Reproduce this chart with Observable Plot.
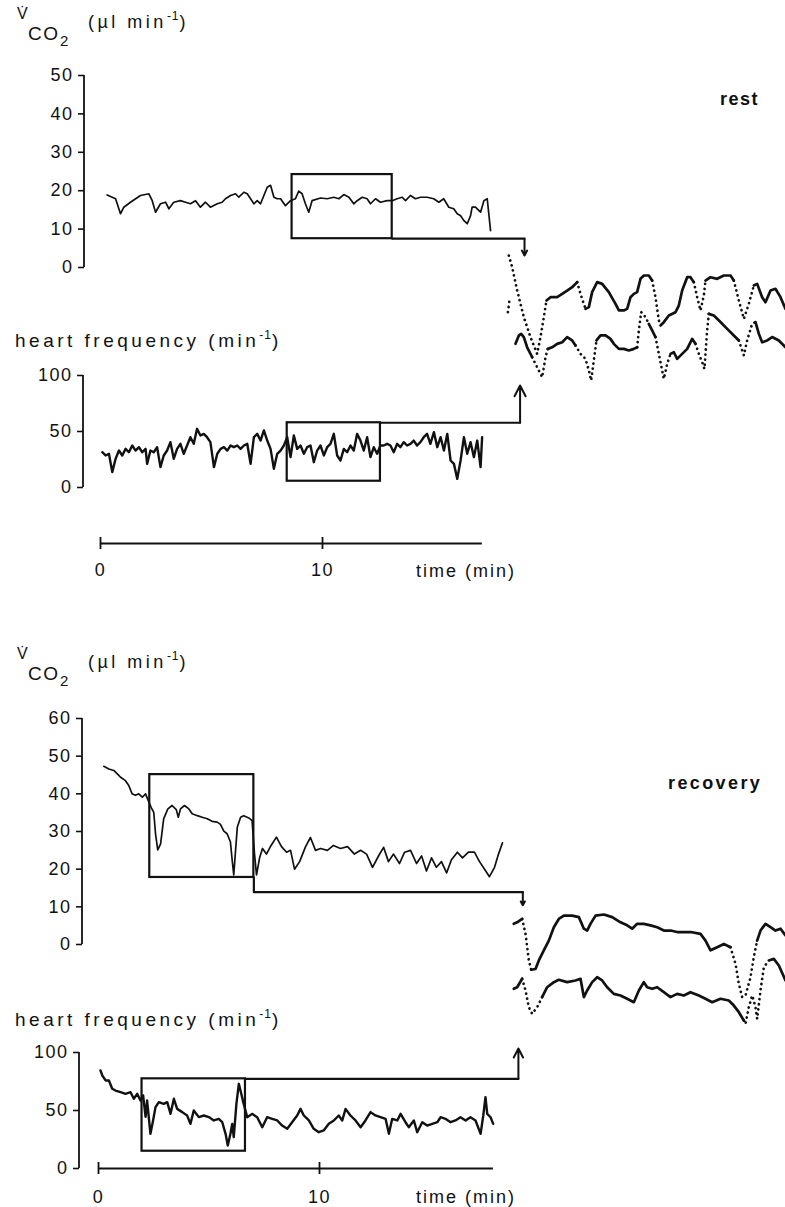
<!DOCTYPE html>
<html><head><meta charset="utf-8">
<script src="https://cdn.jsdelivr.net/npm/d3@7"></script>
<script src="https://cdn.jsdelivr.net/npm/@observablehq/plot@0.6"></script>
<style>
html,body{margin:0;padding:0;background:#fff;}
#fig{position:relative;width:785px;height:1207px;overflow:hidden;background:#fff;font-family:"Liberation Sans",Arial,Helvetica,sans-serif;color:#111;}
#fig svg{position:absolute;left:0;top:0;}
.lbl{position:absolute;white-space:nowrap;font-size:19px;letter-spacing:3.5px;line-height:1;color:#111;}
.sup{font-size:12px;position:relative;top:-8px;letter-spacing:1px;}
</style></head><body><div id="fig"></div>
<script>
// ---------------- data (time in min, values in axis units) ----------------
const timeTicks = [0, 10];
const vco2RestTicks = [0, 10, 20, 30, 40, 50];
const vco2RecTicks = [0, 10, 20, 30, 40, 50, 60];
const hrTicks = [0, 50, 100];

// REST: V'CO2 (µl/min)
const restVco2 = [[0.30,18.9],[0.68,17.9],[0.90,14.0],[1.05,15.7],[1.35,17.0],[1.80,18.75],[2.18,19.2],[2.33,17.4],[2.48,14.4],[2.70,16.6],[2.93,17.0],[3.08,15.3],[3.30,17.0],[3.60,17.4],[3.83,17.0],[4.05,16.6],[4.28,17.4],[4.50,15.7],[4.73,17.0],[4.95,15.7],[5.26,16.6],[5.48,17.0],[5.63,17.9],[5.86,18.75],[6.08,19.2],[6.23,18.3],[6.46,19.6],[6.61,19.2],[6.76,17.9],[6.91,16.6],[7.06,17.4],[7.21,16.6],[7.36,18.75],[7.51,20.9],[7.66,21.4],[7.81,18.3],[7.96,17.9],[8.11,17.9],[8.33,16.1],[8.56,17.4],[8.78,17.9],[8.93,19.9],[9.08,19.2],[9.23,16.6],[9.38,14.4],[9.53,17.4],[9.91,18.1],[10.21,17.9],[10.51,18.3],[10.74,17.9],[10.96,19.0],[11.19,18.3],[11.41,16.6],[11.56,17.4],[11.79,18.3],[12.01,17.9],[12.16,16.6],[12.39,17.9],[12.61,17.0],[12.91,17.4],[13.14,17.4],[13.36,17.9],[13.59,18.3],[13.74,17.4],[13.96,18.75],[14.19,17.9],[14.41,18.3],[14.71,18.3],[15.01,17.9],[15.24,17.0],[15.46,17.9],[15.69,15.7],[15.91,15.3],[16.07,14.0],[16.22,13.5],[16.37,12.2],[16.52,11.4],[16.67,13.5],[16.74,15.7],[16.89,15.7],[17.12,14.4],[17.27,17.4],[17.42,17.9],[17.57,9.6]];
// REST: heart frequency (1/min)
const restHr = [[0.08,31.5],[0.23,28.6],[0.38,30.1],[0.53,13.7],[0.68,25.6],[0.83,33.0],[0.98,28.6],[1.13,34.5],[1.28,31.5],[1.43,37.5],[1.58,33.0],[1.73,36.0],[1.88,31.5],[2.03,34.5],[2.10,21.1],[2.25,33.0],[2.40,31.5],[2.55,36.0],[2.70,18.2],[2.85,28.6],[3.00,33.0],[3.15,40.5],[3.30,25.6],[3.45,34.5],[3.60,39.0],[3.75,30.1],[3.90,37.5],[4.05,44.9],[4.20,39.0],[4.35,52.4],[4.50,46.4],[4.65,47.9],[4.80,44.9],[4.95,40.5],[5.11,18.2],[5.26,30.1],[5.41,34.5],[5.56,36.0],[5.71,33.0],[5.86,37.5],[6.01,36.0],[6.16,37.5],[6.31,34.5],[6.46,37.5],[6.61,39.0],[6.76,21.1],[6.91,44.9],[7.06,47.9],[7.21,41.9],[7.36,50.9],[7.51,41.9],[7.66,34.5],[7.81,16.7],[7.96,30.1],[8.11,33.0],[8.26,37.5],[8.41,44.9],[8.56,27.1],[8.71,46.4],[8.86,34.5],[9.01,37.5],[9.16,30.1],[9.31,36.0],[9.46,37.5],[9.61,22.6],[9.76,33.0],[9.91,37.5],[10.06,28.6],[10.21,36.0],[10.36,39.0],[10.51,47.9],[10.66,28.6],[10.81,24.1],[10.96,34.5],[11.11,31.5],[11.26,37.5],[11.41,33.0],[11.56,47.9],[11.71,41.9],[11.86,33.0],[12.01,44.9],[12.16,27.1],[12.31,36.0],[12.46,30.1],[12.61,37.5],[12.76,37.5],[12.91,39.0],[13.06,37.5],[13.21,31.5],[13.36,39.0],[13.51,36.0],[13.66,40.5],[13.81,37.5],[13.96,39.0],[14.11,41.9],[14.26,37.5],[14.41,40.5],[14.56,44.9],[14.71,47.9],[14.86,39.0],[15.02,49.4],[15.17,36.0],[15.32,44.9],[15.47,33.0],[15.62,47.9],[15.77,24.1],[15.92,21.1],[16.07,7.7],[16.22,24.1],[16.37,44.9],[16.52,30.1],[16.67,40.5],[16.82,27.1],[16.97,41.9],[17.12,18.2],[17.19,44.9]];
const restVco2Box = {t1: 8.63, t2: 13.14, v1: 7.5, v2: 24.2};
const restHrBox = {t1: 8.41, t2: 12.61, v1: 5.6, v2: 57.8};
const restVco2Link = {t: 19.1, level: 7.5, tip: 3.1};
const restHrLink = {t: 18.9, level: 57.8, tip: 91};
const restTimeEnd = 17.2;

// REST magnified insets: [min from window start, value, segment style: 0 solid, 1 dotted, 2 gap]
const restVco2Inset = [[0.005,21.35,1],[0.059,20.48,1],[0.14,18.72,1],[0.247,16.72,1],[0.355,15.21,1],[0.462,13.96,1],[0.516,15.21,1],[0.57,16.72,1],[0.613,17.97,0],[0.677,18.22,0],[0.785,18.22,0],[0.866,18.47,0],[0.946,18.72,0],[1.027,18.97,0],[1.108,19.35,1],[1.161,18.47,1],[1.242,17.34,0],[1.296,17.47,0],[1.349,18.60,0],[1.43,19.35,0],[1.511,19.22,0],[1.618,18.60,0],[1.726,17.72,0],[1.78,17.22,0],[1.86,17.22,0],[1.914,17.34,0],[1.968,18.22,0],[2.022,18.47,0],[2.075,18.60,0],[2.129,19.60,0],[2.183,19.85,0],[2.263,19.85,0],[2.317,19.47,1],[2.371,18.22,1],[2.425,16.47,1],[2.452,16.09,0],[2.505,16.34,0],[2.586,16.84,0],[2.694,17.09,0],[2.747,17.59,0],[2.801,18.72,0],[2.882,19.72,0],[2.935,19.72,0],[2.989,19.35,1],[3.043,18.22,1],[3.097,17.22,1],[3.151,18.35,1],[3.177,19.47,0],[3.258,19.72,0],[3.366,19.60,0],[3.473,19.85,0],[3.581,19.85,0],[3.634,19.47,1],[3.715,17.97,1],[3.796,16.59,1],[3.876,17.72,1],[3.957,19.10,0],[4.011,19.22,0],[4.091,18.22,0],[4.145,17.84,0],[4.226,18.72,0],[4.306,18.85,0],[4.387,18.22,0],[4.468,17.34,0]];
const restHrInset = [[-0.01,49.3,1],[0.005,52.2,1],[0.02,55.9,2],[0.113,35.3,0],[0.167,39.0,0],[0.204,39.7,0],[0.247,38.3,0],[0.301,33.8,0],[0.382,29.4,1],[0.462,25.0,1],[0.543,20.6,1],[0.597,29.4,1],[0.634,33.1,0],[0.704,33.8,0],[0.785,35.3,0],[0.866,36.0,0],[0.946,38.3,0],[1.027,36.8,0],[1.081,34.6,1],[1.161,30.9,1],[1.242,28.7,1],[1.296,23.6,1],[1.333,19.2,1],[1.376,28.0,1],[1.419,36.8,0],[1.484,39.0,0],[1.565,39.0,0],[1.645,37.5,0],[1.699,35.3,0],[1.78,33.1,0],[1.86,33.1,0],[1.941,32.4,0],[2.022,33.1,0],[2.075,33.8,1],[2.102,41.2,1],[2.14,49.3,1],[2.21,47.1,1],[2.263,44.1,0],[2.317,41.2,0],[2.371,38.3,1],[2.425,30.9,1],[2.478,23.6,1],[2.505,19.9,1],[2.559,26.5,1],[2.613,30.9,0],[2.667,31.6,0],[2.72,28.7,0],[2.801,30.9,0],[2.882,33.1,0],[2.962,37.5,0],[3.016,35.3,1],[3.07,30.9,1],[3.124,27.2,1],[3.161,24.3,1],[3.177,30.9,1],[3.204,41.2,1],[3.231,48.5,0],[3.312,47.8,0],[3.419,44.9,0],[3.527,41.9,0],[3.634,39.0,0],[3.715,36.8,1],[3.769,32.4,1],[3.796,30.2,1],[3.849,36.8,1],[3.93,44.1,1],[3.984,44.9,0],[4.038,39.7,0],[4.091,36.0,0],[4.172,36.8,0],[4.253,38.3,0],[4.36,36.8,0],[4.468,33.8,0]];

// RECOVERY: V'CO2
const recVco2 = [[0.24,47.3],[0.47,46.6],[0.69,46.2],[0.85,45.3],[1.00,44.4],[1.22,43.5],[1.37,42.2],[1.52,40.0],[1.67,39.6],[1.82,40.0],[1.98,39.1],[2.13,40.0],[2.28,37.8],[2.38,36.4],[2.50,35.1],[2.58,29.4],[2.68,25.1],[2.81,26.7],[2.95,33.4],[3.14,36.0],[3.33,36.9],[3.52,35.8],[3.61,33.8],[3.71,36.0],[3.89,36.9],[4.09,36.0],[4.24,34.7],[4.47,34.2],[4.69,33.8],[4.92,33.4],[5.14,32.7],[5.37,32.5],[5.52,31.9],[5.67,30.1],[5.82,29.4],[5.97,27.2],[6.05,22.3],[6.12,18.5],[6.28,31.1],[6.43,33.8],[6.57,34.2],[6.80,33.6],[6.95,32.9],[7.06,24],[7.15,18.5],[7.29,23],[7.42,25.5],[7.60,24],[7.78,26],[8.05,28.5],[8.28,26],[8.51,24.5],[8.69,25],[8.87,20],[9.10,22],[9.37,26],[9.59,28.4],[9.82,25],[10.05,25.5],[10.36,25],[10.63,26.3],[10.95,25.5],[11.27,26],[11.58,24],[11.86,25],[12.13,24],[12.40,20.5],[12.67,23.5],[12.90,25.8],[13.12,22],[13.35,24],[13.62,21.5],[13.85,24.5],[14.12,25],[14.39,21.5],[14.62,23.5],[14.84,19.5],[15.07,23],[15.29,20.5],[15.52,22],[15.75,19],[15.97,22.5],[16.24,24.5],[16.47,23],[16.74,24.5],[17.01,24.5],[17.24,22],[17.47,20],[17.69,18],[17.92,20.5],[18.10,24],[18.28,27]];
// RECOVERY: heart frequency
const recHr = [[0.09,84.5],[0.17,80.2],[0.32,75.9],[0.47,75.9],[0.62,68.7],[0.77,67.2],[1.00,65.8],[1.22,64.4],[1.45,65.8],[1.60,60.1],[1.75,64.4],[1.90,58.6],[2.02,63.0],[2.13,44.5],[2.20,58.6],[2.35,29.9],[2.47,41.4],[2.58,52.9],[2.73,57.2],[2.95,55.7],[3.11,57.2],[3.26,47.1],[3.41,60.1],[3.56,51.4],[3.79,48.6],[4.01,45.7],[4.16,38.5],[4.31,50.0],[4.54,44.3],[4.77,45.7],[4.99,44.3],[5.22,41.4],[5.44,42.8],[5.60,39.9],[5.75,29.9],[5.85,19.8],[5.97,29.9],[6.05,38.5],[6.12,27.0],[6.24,55.7],[6.35,73.0],[6.46,64.4],[6.57,55.7],[6.73,44.2],[6.95,47.1],[7.18,44.2],[7.41,35.6],[7.63,44.2],[7.86,42.8],[8.09,41.4],[8.31,37.0],[8.54,34.2],[8.76,39.9],[8.99,45.7],[9.14,51.4],[9.29,45.7],[9.52,41.4],[9.74,34.2],[9.97,31.3],[10.19,32.8],[10.42,38.5],[10.65,41.4],[10.87,45.7],[11.03,41.4],[11.18,51.4],[11.40,45.7],[11.63,41.4],[11.86,35.6],[12.08,41.4],[12.31,48.6],[12.53,45.7],[12.76,44.2],[12.99,42.8],[13.14,29.9],[13.29,42.8],[13.52,41.4],[13.67,47.1],[13.89,39.9],[14.04,35.6],[14.27,41.4],[14.42,31.3],[14.65,39.9],[14.87,37.0],[15.10,38.5],[15.33,39.9],[15.48,44.2],[15.70,42.8],[15.93,39.9],[16.15,41.4],[16.38,44.2],[16.61,41.4],[16.83,44.2],[17.06,41.4],[17.29,29.9],[17.41,45.7],[17.51,61.5],[17.59,47.1],[17.74,44.2],[17.86,38.5]];
const recVco2Box = {t1: 2.32, t2: 7.03, v1: 17.8, v2: 45.1};
const recHrBox = {t1: 1.97, t2: 6.65, v1: 14.9, v2: 77.3};
const recVco2Link = {t: 19.2, level: 13.9, tip: 10.4};
const recHrLink = {t: 19.0, level: 77.3, tip: 103.4};
const recTimeEnd = 17.87;

const recVco2Inset = [[0.02,37.5,0],[0.075,37.9,0],[0.156,38.8,1],[0.21,34.8,1],[0.237,31.25,1],[0.263,27.7,1],[0.301,25.2,0],[0.371,25.4,0],[0.425,27.7,0],[0.505,30.4,0],[0.586,33.0,0],[0.667,36.6,0],[0.747,38.8,0],[0.828,39.7,0],[0.962,39.7,0],[1.07,39.3,0],[1.151,36.2,0],[1.204,35.7,0],[1.258,37.5,0],[1.339,39.7,0],[1.473,40.0,0],[1.608,39.3,0],[1.742,37.9,0],[1.849,37.1,0],[1.930,36.2,0],[2.011,37.5,0],[2.118,37.5,0],[2.226,37.1,0],[2.333,36.6,0],[2.441,35.7,0],[2.548,35.7,0],[2.656,35.3,0],[2.763,35.3,0],[2.871,35.3,0],[3.032,34.8,0],[3.113,33.0,0],[3.194,30.4,0],[3.301,31.25,0],[3.409,32.1,0],[3.516,31.25,1],[3.597,26.8,1],[3.651,21.4,1],[3.704,17.9,1],[3.758,18.3,1],[3.839,23.2,1],[3.892,28.6,1],[3.946,33.0,0],[4.0,35.7,0],[4.081,37.5,0],[4.161,36.6,0],[4.242,35.7,0],[4.323,36.2,0],[4.403,34.4,0]];
const recHrInset = [[0.02,46.7,0],[0.075,47.9,0],[0.156,54.4,1],[0.21,45.4,1],[0.263,32.6,1],[0.317,27.4,1],[0.398,32.6,1],[0.478,40.3,0],[0.559,47.9,0],[0.667,51.8,0],[0.747,53.6,0],[0.882,51.8,0],[1.016,53.1,0],[1.097,54.4,0],[1.151,40.3,0],[1.204,45.4,0],[1.285,51.8,0],[1.366,55.6,0],[1.446,53.1,0],[1.527,47.9,0],[1.634,42.8,0],[1.742,41.5,0],[1.849,39.0,0],[1.957,36.4,0],[2.038,45.4,0],[2.118,51.8,0],[2.172,47.9,0],[2.253,46.7,0],[2.333,47.9,0],[2.441,44.1,0],[2.548,40.3,0],[2.656,42.8,0],[2.763,41.5,0],[2.871,44.1,0],[3.005,41.5,0],[3.113,39.0,0],[3.22,36.4,0],[3.355,39.0,0],[3.489,37.7,0],[3.57,33.8,0],[3.651,28.7,0],[3.731,22.3,1],[3.758,19.7,1],[3.812,32.6,1],[3.866,41.5,1],[3.919,32.6,1],[3.946,23.6,1],[4.0,45.4,1],[4.054,63.3,1],[4.134,68.5,0],[4.215,69.7,0],[4.296,64.6,0],[4.403,53.1,0]];

// ---------------- layout (page pixels) ----------------
const W = 785, H = 1207, INK = "#111";
const FONT = '"Liberation Sans", Arial, Helvetica, sans-serif';
const layout = {
  rest: {x: [100, 322], vco2Y: [267, 75], hrY: [487, 375], vco2Axis: 84, hrAxis: 83, timeY: 543, labelPad: 14,
         inset: {x: [508, 570], vco2Dom: [14, 20], vco2Y: [352.8, 273], hrDom: [20, 50], hrY: [378.1, 310]}},
  rec:  {x: [98, 319], vco2Y: [944, 718], hrY: [1168, 1052], vco2Axis: 82, hrAxis: 79, timeY: 1168, labelPad: 16,
         inset: {x: [512, 574], vco2Dom: [25, 40], vco2Y: [970, 914], hrDom: [20, 70], hrY: [1023, 958]}}
};

const fig = document.getElementById("fig");
function layer(o) {
  const svg = Plot.plot(Object.assign({
    width: W, height: H, margin: 0,
    style: {position: "absolute", left: "0px", top: "0px", background: "transparent", overflow: "visible",
            fontFamily: FONT, fontSize: "18px", letterSpacing: "1.5px", color: INK}
  }, o));
  fig.appendChild(svg);
}
function yAxisLine(dom) {
  return (index, scales, values, dims) => {
    const l = document.createElementNS("http://www.w3.org/2000/svg", "line");
    l.setAttribute("x1", dims.marginLeft); l.setAttribute("x2", dims.marginLeft);
    l.setAttribute("y1", scales.y(dom[0])); l.setAttribute("y2", scales.y(dom[dom.length - 1]));
    l.setAttribute("stroke", INK); l.setAttribute("stroke-width", 1.8);
    return l;
  };
}
function panel({xr, dom, yr, axisAt, ticks, trace, width, box, link, up}) {
  const edge = up ? box.v2 : box.v1;
  const conn = [[box.t2, edge], [box.t2, link.level], [link.t, link.level]];
  layer({
    marginLeft: axisAt,
    x: {domain: [0, 10], range: xr, axis: null},
    y: {domain: [dom[0], dom[dom.length - 1]], range: yr},
    marks: [
      Plot.axisY({ticks, tickSize: 6, tickPadding: 5, label: null, strokeWidth: 1.6}),
      yAxisLine(dom),
      Plot.line(trace, {x: d => d[0], y: d => d[1], stroke: INK, strokeWidth: width, strokeLinejoin: "round"}),
      Plot.rect([box], {x1: d => d.t1, x2: d => d.t2, y1: d => d.v1, y2: d => d.v2, fill: "none", stroke: INK, strokeWidth: 2.2}),
      Plot.line(conn, {x: d => d[0], y: d => d[1], stroke: INK, strokeWidth: 2.2}),
      Plot.arrow([link], {x1: d => d.t, x2: d => d.t, y1: d => d.level, y2: d => d.tip, bend: 0,
                          headLength: 9, headAngle: 55, stroke: INK, strokeWidth: 2})
    ]
  });
}
function timeAxis({xr, y, end, pad}) {
  layer({
    marginTop: y - 6, marginBottom: H - (y + 6),
    x: {domain: [0, 10], range: xr},
    y: {domain: [-1, 1], axis: null},
    marks: [
      Plot.ruleY([0], {x1: () => 0, x2: () => end, stroke: INK, strokeWidth: 1.8}),
      Plot.tickX(timeTicks, {x: d => d, stroke: INK, strokeWidth: 1.8}),
      Plot.axisX({ticks: timeTicks, tickSize: 0, tickPadding: pad, label: null})
    ]
  });
}
function runs(points) {
  const out = []; let run = -1, prev = null;
  for (let i = 0; i < points.length - 1; i++) {
    const f = points[i][2];
    if (f === 2) { prev = null; continue; }
    if (f !== prev) { run++; out.push({x: points[i][0], y: points[i][1], run, dotted: f === 1}); prev = f; }
    out.push({x: points[i + 1][0], y: points[i + 1][1], run, dotted: f === 1});
  }
  return out;
}
function inset({xr, dom, yr, points}) {
  const r = runs(points);
  layer({
    x: {domain: [0, 1], range: xr, axis: null},
    y: {domain: dom, range: yr, axis: null},
    marks: [
      Plot.line(r.filter(d => !d.dotted), {x: "x", y: "y", z: "run", stroke: INK, strokeWidth: 2.7, strokeLinejoin: "round", strokeLinecap: "round"}),
      Plot.line(r.filter(d => d.dotted), {x: "x", y: "y", z: "run", stroke: INK, strokeWidth: 2.7, strokeDasharray: "0.1 5", strokeLinecap: "round"})
    ]
  });
}

const R = layout.rest, C = layout.rec;
panel({xr: R.x, dom: vco2RestTicks, yr: R.vco2Y, axisAt: R.vco2Axis, ticks: vco2RestTicks, trace: restVco2, width: 1.7, box: restVco2Box, link: restVco2Link, up: false});
panel({xr: R.x, dom: hrTicks, yr: R.hrY, axisAt: R.hrAxis, ticks: hrTicks, trace: restHr, width: 2.4, box: restHrBox, link: restHrLink, up: true});
timeAxis({xr: R.x, y: R.timeY, end: restTimeEnd, pad: R.labelPad});
inset({xr: R.inset.x, dom: R.inset.vco2Dom, yr: R.inset.vco2Y, points: restVco2Inset});
inset({xr: R.inset.x, dom: R.inset.hrDom, yr: R.inset.hrY, points: restHrInset});

panel({xr: C.x, dom: vco2RecTicks, yr: C.vco2Y, axisAt: C.vco2Axis, ticks: vco2RecTicks, trace: recVco2, width: 1.7, box: recVco2Box, link: recVco2Link, up: false});
panel({xr: C.x, dom: hrTicks, yr: C.hrY, axisAt: C.hrAxis, ticks: hrTicks, trace: recHr, width: 2.4, box: recHrBox, link: recHrLink, up: true});
timeAxis({xr: C.x, y: C.timeY, end: recTimeEnd, pad: C.labelPad});
inset({xr: C.inset.x, dom: C.inset.vco2Dom, yr: C.inset.vco2Y, points: recVco2Inset});
inset({xr: C.inset.x, dom: C.inset.hrDom, yr: C.inset.hrY, points: recHrInset});

// ---------------- text ----------------
function label(html, left, top, css) {
  const d = document.createElement("div");
  d.className = "lbl"; d.innerHTML = html;
  d.style.left = left + "px"; d.style.top = top + "px";
  if (css) d.style.cssText += css;
  fig.appendChild(d);
}
function vco2Label(dy) {
  label("V\u0307", 17, 6 + dy, "font-size:16px;letter-spacing:0");
  label("CO", 28, 24 + dy, "font-size:19px;letter-spacing:1.5px");
  label("2", 60, 33 + dy, "font-size:15px;letter-spacing:0");
  label('(µl min<span class="sup">-1</span>)', 88, 13 + dy, "font-size:18px;letter-spacing:3.5px");
}
vco2Label(0);
vco2Label(640);
label("rest", 720, 90, "font-size:18px;font-weight:bold;letter-spacing:1.5px");
label("recovery", 668, 774, "font-size:18px;font-weight:bold;letter-spacing:2.4px");
label('heart frequency (min<span class="sup">-1</span>)', 15, 331);
label('heart frequency (min<span class="sup">-1</span>)', 15, 1010);
label("time (min)", 416, 562, "font-size:18px;letter-spacing:2px");
label("time (min)", 416, 1188, "font-size:18px;letter-spacing:2px");
</script></body></html>
